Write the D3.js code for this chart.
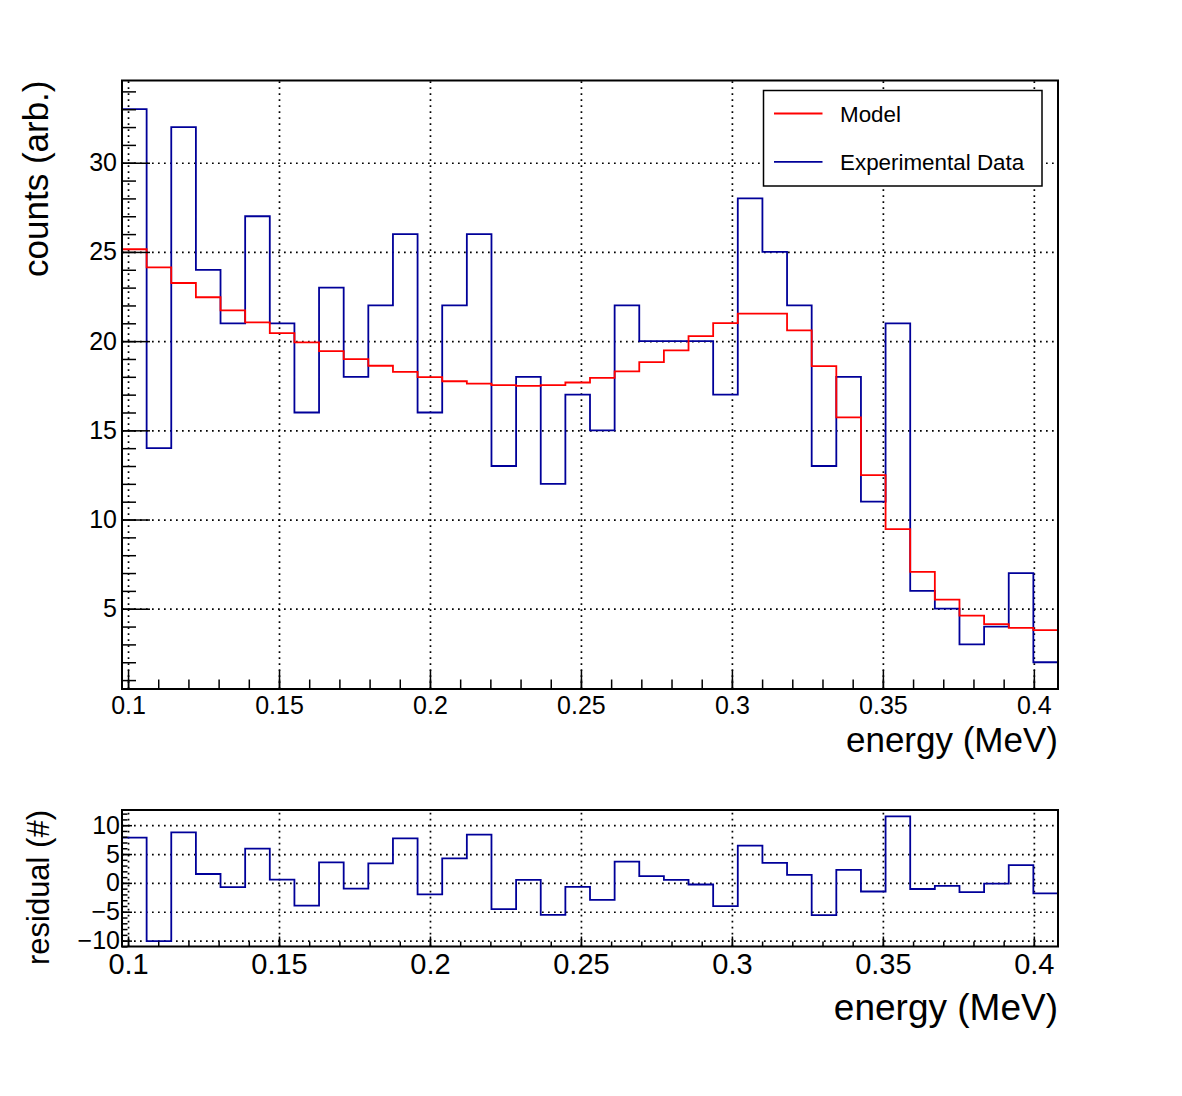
<!DOCTYPE html>
<html>
<head>
<meta charset="utf-8">
<script src="https://cdn.jsdelivr.net/npm/d3@7"></script>
<style>
  body { margin: 0; background: #fff; }
  svg { display: block; font-family: "Liberation Sans", Arial, Helvetica, sans-serif; }
</style>
</head>
<body>
<div id="chart"></div>
<script>
const width = 1182, height = 1096;

// histogram range and bin contents
const energyDomain = [0.098, 0.408];
const dataCounts = [33, 14, 32, 24, 21, 27, 21, 16, 23, 18, 22, 26, 16, 22, 26, 13, 18, 12, 17, 15,
    22, 20, 20, 20, 17, 28, 25, 22, 13, 18, 11, 21, 6, 5, 3, 4, 7, 2];
const modelCounts = [25.15, 24.14, 23.26, 22.46, 21.72, 21.05, 20.45, 19.93, 19.44, 18.99, 18.62, 18.28,
    17.98, 17.75, 17.62, 17.53, 17.49, 17.53, 17.68, 17.94, 18.31, 18.82, 19.48, 20.28, 21.01, 21.54,
    21.54, 20.6, 18.6, 15.73, 12.49, 9.46, 7.06, 5.51, 4.61, 4.14, 3.93, 3.8];
const residuals = [7.85, -10.1, 8.74, 1.54, -0.72, 5.95, 0.55, -3.93, 3.56, -0.99, 3.38, 7.72, -1.98,
    4.25, 8.38, -4.53, 0.51, -5.53, -0.68, -2.94, 3.69, 1.18, 0.52, -0.28, -4.01, 6.46, 3.46, 1.4,
    -5.6, 2.27, -1.49, 11.54, -1.06, -0.51, -1.61, -0.14, 3.07, -1.8];

const energyTicks = [0.1, 0.15, 0.2, 0.25, 0.3, 0.35, 0.4];
const countTicks = [5, 10, 15, 20, 25, 30];
const residualTicks = [-10, -5, 0, 5, 10];
const legendLabels = ["Model", "Experimental Data"];
const modelColor = "#ff0000";
const dataColor = "#000099";

const mainFrame = { left: 122, right: 1058, top: 80.5, bottom: 689 };
const resFrame = { left: 122, right: 1058, top: 810, bottom: 946.5 };

const svg = d3.select("#chart")
    .append("svg")
    .attr("width", width)
    .attr("height", height);

svg.append("rect").attr("width", width).attr("height", height).attr("fill", "#fff");

const xMain = d3.scaleLinear().domain(energyDomain).range([mainFrame.left, mainFrame.right]);
const yMain = d3.scaleLinear().domain([0.5, 34.61]).range([mainFrame.bottom, mainFrame.top]);
const xRes = d3.scaleLinear().domain(energyDomain).range([resFrame.left, resFrame.right]);
const yRes = d3.scaleLinear().domain([-11.02, 12.63]).range([resFrame.bottom, resFrame.top]);

const binWidth = (energyDomain[1] - energyDomain[0]) / dataCounts.length;
const lowEdges = dataCounts.map((d, i) => energyDomain[0] + i * binWidth);

const stepPoints = (values) => {
    const pts = values.map((v, i) => [lowEdges[i], v]);
    pts.push([energyDomain[1], values[values.length - 1]]);
    return pts;
};

const minorEnergy = d3.range(10, 41).map(d => d / 100);

const drawGrid = (frame, x, y, yTicks) => {
    const g = svg.append("g");
    g.append("g")
        .attr("transform", `translate(0,${frame.bottom})`)
        .call(d3.axisBottom(x).tickValues(energyTicks).tickSize(-(frame.bottom - frame.top)).tickFormat(""));
    g.append("g")
        .attr("transform", `translate(${frame.left},0)`)
        .call(d3.axisLeft(y).tickValues(yTicks).tickSize(-(frame.right - frame.left)).tickFormat(""));
    g.selectAll(".domain").remove();
    g.selectAll("line")
        .attr("stroke", "#000")
        .attr("stroke-width", 1.7)
        .attr("stroke-dasharray", "1.7,4.3");
};

const drawAxes = (frame, x, y, yTicks, yMinor, s) => {
    const gx = svg.append("g")
        .attr("transform", `translate(0,${frame.bottom})`)
        .call(d3.axisBottom(x).tickValues(energyTicks).tickSize(-s.xMajor).tickFormat(d => String(d)));
    gx.attr("font-family", null).attr("font-size", s.xFont);
    gx.selectAll("text").attr("y", s.xLabelY).attr("dy", null).attr("fill", "#000");

    const gxm = svg.append("g")
        .attr("transform", `translate(0,${frame.bottom})`)
        .call(d3.axisBottom(x).tickValues(minorEnergy).tickSize(-s.xMinor).tickFormat(""));

    const gy = svg.append("g")
        .attr("transform", `translate(${frame.left},0)`)
        .call(d3.axisLeft(y).tickValues(yTicks).tickSize(-s.yMajor).tickPadding(s.yPad).tickFormat(d3.format("d")));
    gy.attr("font-family", null).attr("font-size", s.yFont);
    gy.selectAll("text").attr("fill", "#000");

    const gym = svg.append("g")
        .attr("transform", `translate(${frame.left},0)`)
        .call(d3.axisLeft(y).tickValues(yMinor).tickSize(-s.yMinor).tickFormat(""));

    [gx, gxm, gy, gym].forEach(g => {
        g.selectAll(".domain").remove();
        g.selectAll("line").attr("stroke", "#000").attr("stroke-width", 1.5);
    });

    svg.append("rect")
        .attr("x", frame.left)
        .attr("y", frame.top)
        .attr("width", frame.right - frame.left)
        .attr("height", frame.bottom - frame.top)
        .attr("fill", "none")
        .attr("stroke", "#000")
        .attr("stroke-width", 2);
};

// ---- top panel
drawGrid(mainFrame, xMain, yMain, countTicks);

const lineMain = d3.line()
    .x(d => xMain(d[0]))
    .y(d => yMain(d[1]))
    .curve(d3.curveStepAfter);

svg.append("path")
    .attr("d", lineMain(stepPoints(dataCounts)))
    .attr("fill", "none")
    .attr("stroke", dataColor)
    .attr("stroke-width", 1.8);

svg.append("path")
    .attr("d", lineMain(stepPoints(modelCounts)))
    .attr("fill", "none")
    .attr("stroke", modelColor)
    .attr("stroke-width", 1.8);

drawAxes(mainFrame, xMain, yMain, countTicks, d3.range(1, 35), {
    xMajor: 19, xMinor: 9.5, yMajor: 28, yMinor: 14, yPad: 5, xFont: 25, yFont: 25, xLabelY: 25
});

svg.append("text")
    .text("energy (MeV)")
    .attr("text-anchor", "end")
    .attr("x", mainFrame.right)
    .attr("y", 752)
    .attr("font-size", 35);

svg.append("text")
    .text("counts (arb.)")
    .attr("text-anchor", "end")
    .attr("transform", `translate(48,${mainFrame.top}) rotate(-90)`)
    .attr("font-size", 35);

// legend
const legend = svg.append("g")
    .attr("transform", "translate(763.5,90.5)");
legend.append("rect")
    .attr("width", 278.5)
    .attr("height", 95.5)
    .attr("fill", "#fff")
    .attr("stroke", "#000")
    .attr("stroke-width", 1.5);
[modelColor, dataColor].forEach((c, i) => {
    const g = legend.append("g")
        .attr("transform", `translate(0, ${23 + i * 48.3})`);
    g.append("line")
        .attr("x1", 10.5)
        .attr("x2", 59)
        .attr("stroke", c)
        .attr("stroke-width", 1.8);
    g.append("text")
        .attr("x", 76.5)
        .attr("y", 8)
        .attr("font-size", 22.4)
        .text(legendLabels[i]);
});

// ---- residual panel
drawGrid(resFrame, xRes, yRes, residualTicks);

const lineRes = d3.line()
    .x(d => xRes(d[0]))
    .y(d => yRes(d[1]))
    .curve(d3.curveStepAfter);

svg.append("path")
    .attr("d", lineRes(stepPoints(residuals)))
    .attr("fill", "none")
    .attr("stroke", dataColor)
    .attr("stroke-width", 1.8);

drawAxes(resFrame, xRes, yRes, residualTicks, d3.range(-11, 13), {
    xMajor: 10, xMinor: 5, yMajor: 10, yMinor: 5.5, yPad: 2, xFont: 29, yFont: 25, xLabelY: 27
});

svg.append("text")
    .text("energy (MeV)")
    .attr("text-anchor", "end")
    .attr("x", resFrame.right)
    .attr("y", 1020)
    .attr("font-size", 37);

svg.append("text")
    .text("residual (#)")
    .attr("text-anchor", "end")
    .attr("transform", `translate(49,${resFrame.top}) rotate(-90)`)
    .attr("font-size", 31);
</script>
</body>
</html>
